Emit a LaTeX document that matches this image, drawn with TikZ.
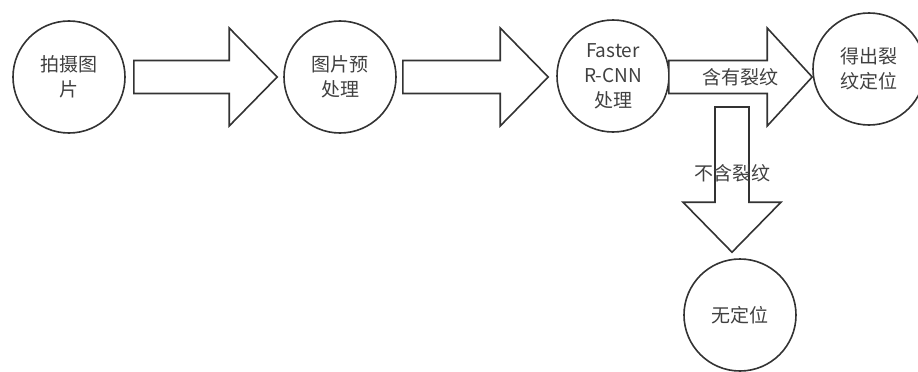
\documentclass[tikz,border=0pt]{standalone}
\usepackage{fontspec}
\setmainfont{Noto Sans CJK SC}
\usetikzlibrary{calc}
\definecolor{ln}{HTML}{333333}
\definecolor{tx}{HTML}{404040}
% horizontal block arrow: start point, tip point, head length
\newcommand\blockright[3]{%
  \draw[blk] let \p1=(#1), \p2=(#2) in
    (\x1,\y1+16.5pt) -- (\x2-#3,\y1+16.5pt) -- (\x2-#3,\y1+49pt) -- (\x2,\y1)
    -- (\x2-#3,\y1-49pt) -- (\x2-#3,\y1-16.5pt) -- (\x1,\y1-16.5pt) -- cycle;}
\begin{document}
\begin{tikzpicture}[x=1pt,y=-1pt,
  circ/.style={circle, draw=ln, line width=1.6pt, minimum size=112pt, inner sep=0pt,
               align=center, font=\fontsize{19}{25}\selectfont, text=tx},
  blk/.style={draw=ln, line width=1.6pt, fill=white, line join=miter},
  lbl/.style={font=\fontsize{19}{25}\selectfont, text=tx}]
\useasboundingbox (0,0) rectangle (918,372);

\node[circ] (c1) at (69,77) {拍摄图\\片};
\node[circ] (c2) at (340,77) {图片预\\处理};
\node[circ] (c3) at (613,76) {Faster\\R-CNN\\处理};
\node[circ] (c4) at (869,69) {得出裂\\纹定位};
\node[circ] (c5) at (740,315) {无定位};

\blockright{$(c1.east)+(8,0)$}{$(c2.west)+(-6,0)$}{48pt}
\blockright{$(c2.east)+(6,0)$}{$(c3.west)+(-8,0)$}{48pt}
\blockright{$(c3.east)+(-1,1)$}{$(c4.west)+(0,8)$}{45pt}

\coordinate (d0) at (732,107);
\draw[blk] let \p1=(d0), \p2=(c5.north) in
  (\x1-17pt,\y1) -- (\x1+17pt,\y1) -- (\x1+17pt,\y2+56pt) -- (\x1+49pt,\y2+56pt)
  -- (\x1,\y2+6pt) -- (\x1-49pt,\y2+56pt) -- (\x1-17pt,\y2+56pt) -- cycle;

\node[lbl] (l1) at (740,77) {含有裂纹};
\node[lbl] (l2) at (732,173) {不含裂纹};
\end{tikzpicture}
\end{document}
